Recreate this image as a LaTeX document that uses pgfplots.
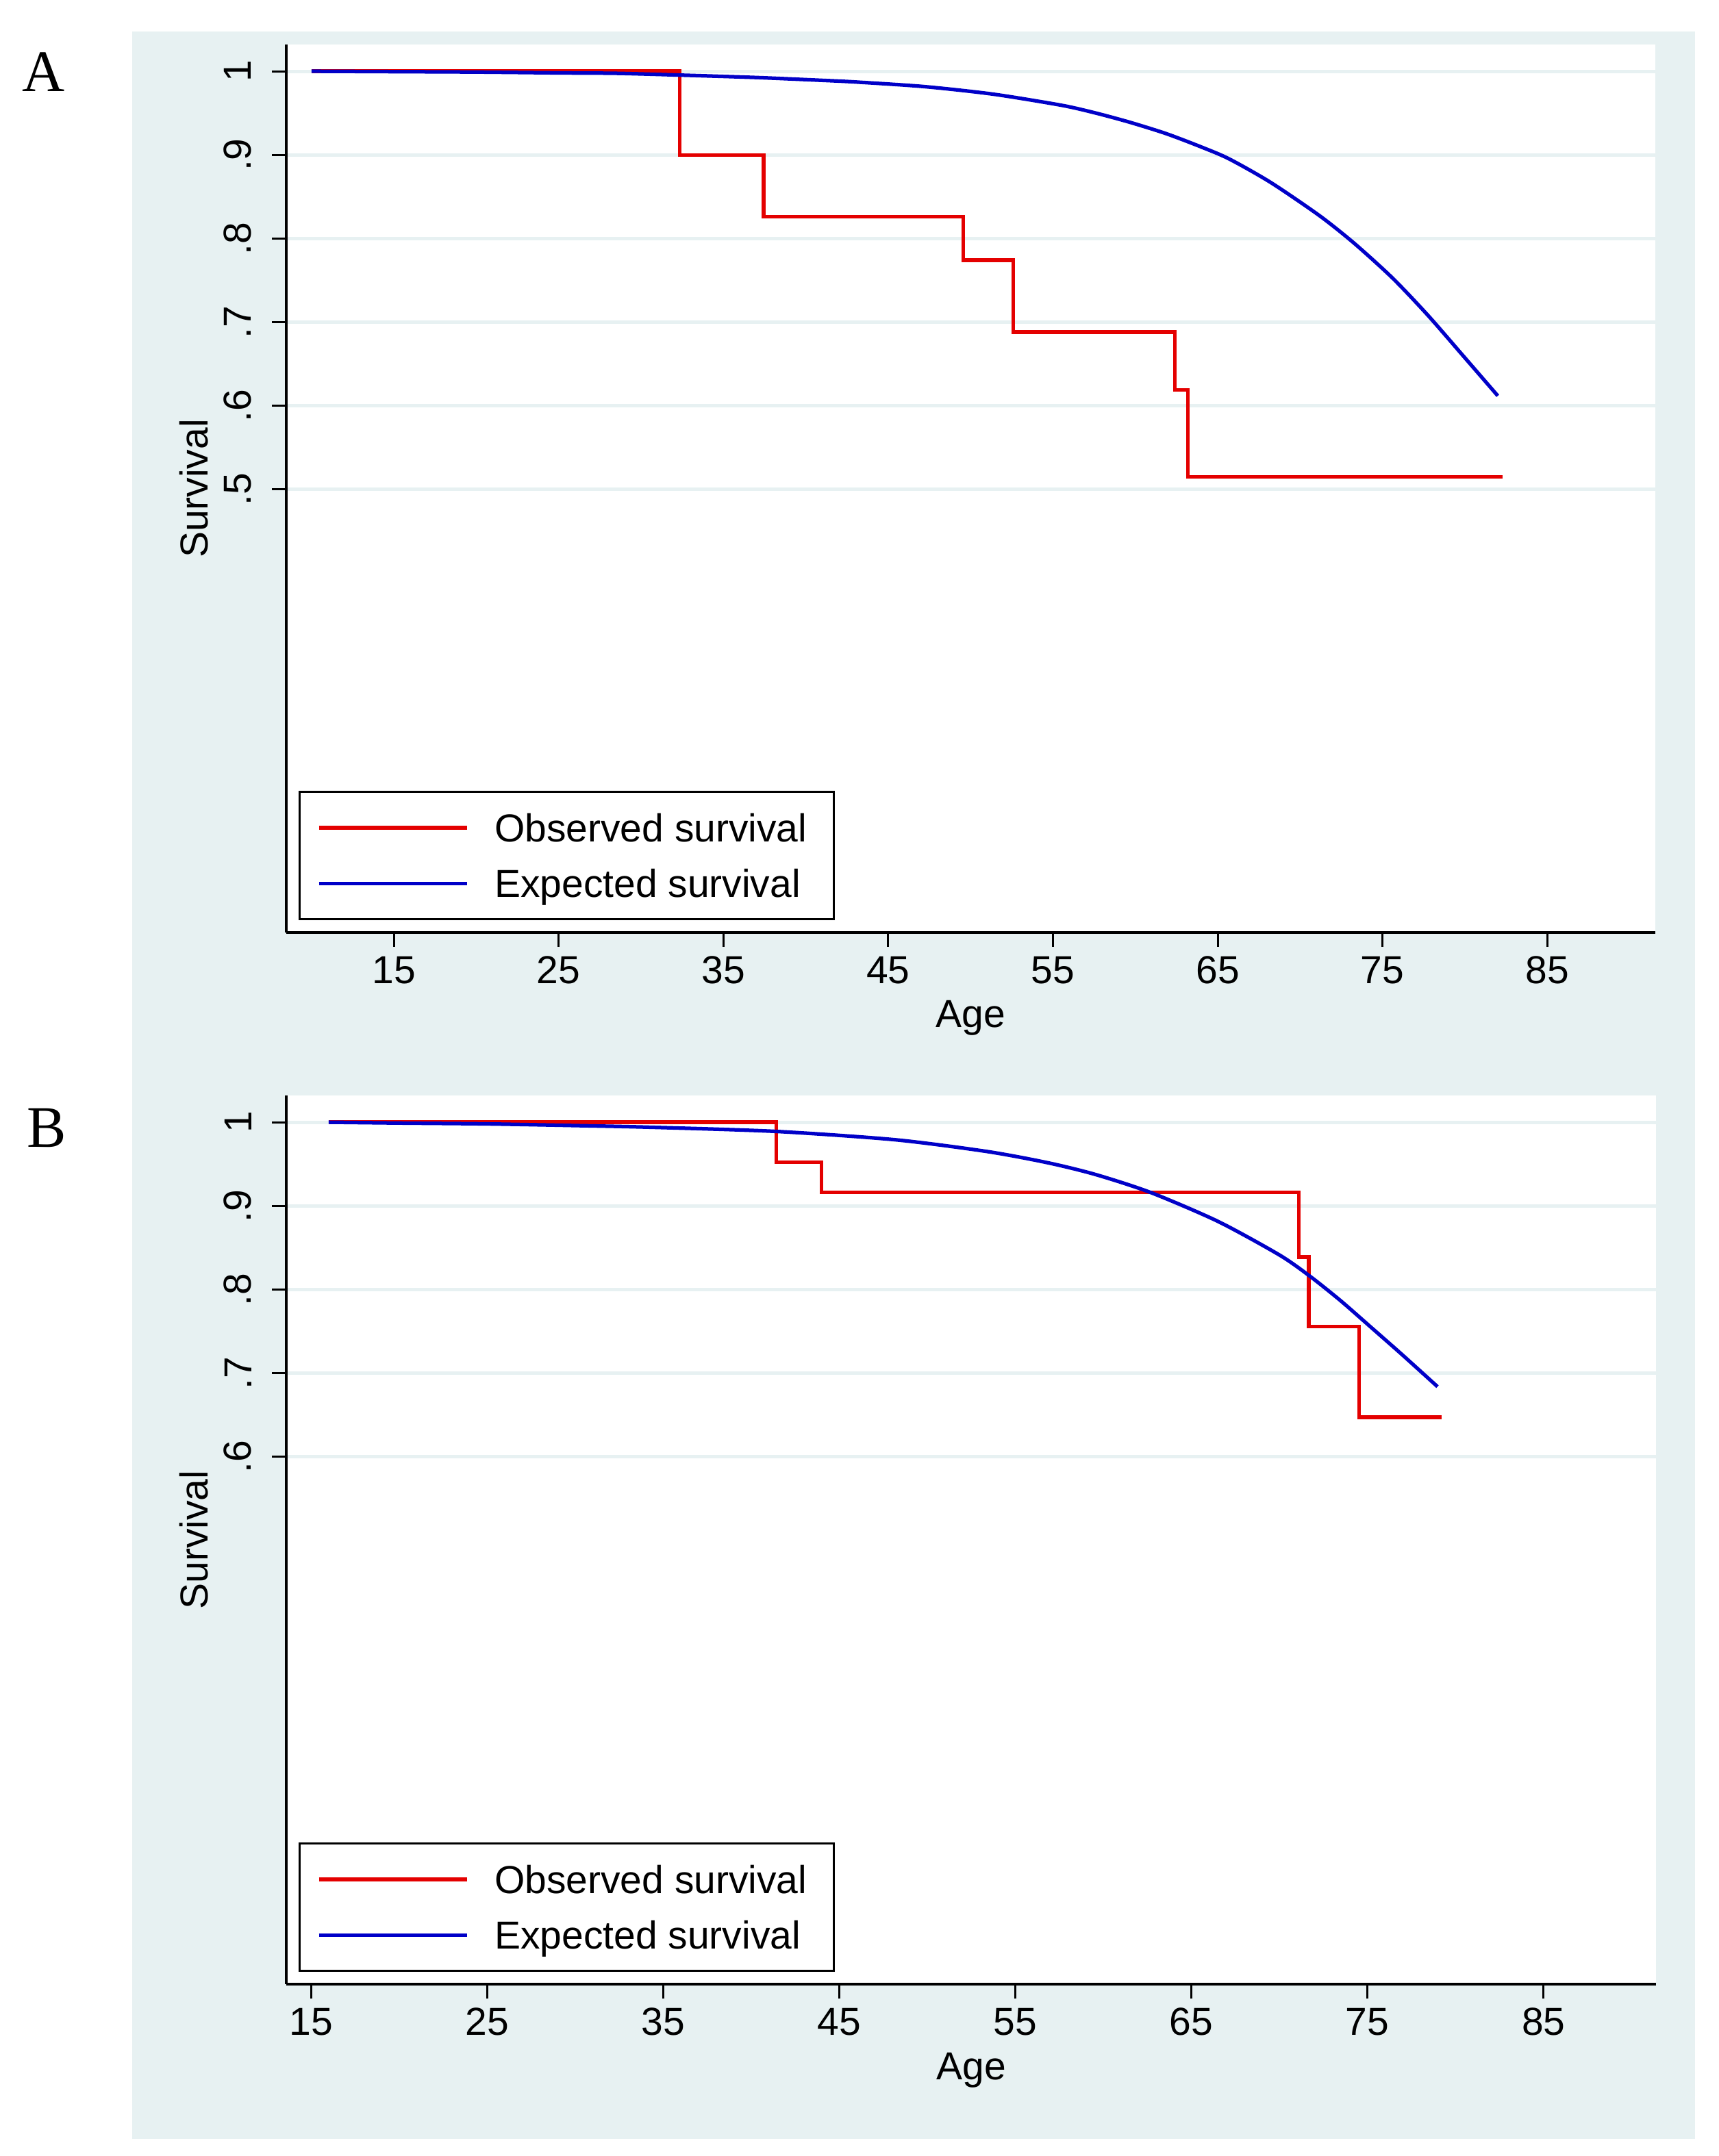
\documentclass[border=0pt]{standalone}
\usepackage{fontspec}
\setmainfont{Liberation Sans}
\newfontfamily\panelfont{Liberation Serif}
\usepackage{pgfplots}
\pgfplotsset{compat=1.18}
\definecolor{bgc}{RGB}{231,241,242}
\definecolor{obsred}{RGB}{228,0,0}
\definecolor{expblue}{RGB}{0,0,200}
\newcommand{\lblfont}{\fontsize{11.4}{13}\selectfont}
\pgfplotsset{
  survstyle/.style={
    scale only axis,
    axis background/.style={fill=white},
    axis x line*=bottom, axis y line*=left,
    axis line style={line width=0.65pt, black},
    tick style={line width=0.6pt, black},
    major tick length=4.2pt,
    tick align=outside,
    ymajorgrids,
    major grid style={draw=bgc, line width=1pt},
    xtick={15,25,35,45,55,65,75,85},
    xticklabels={15,25,35,45,55,65,75,85},
    ymin=-0.03, ymax=1.032,
    tick label style={font=\lblfont, inner sep=0pt},
    xticklabel style={anchor=north},
    xticklabel shift=2.6pt,
    yticklabel style={rotate=90, anchor=south},
    yticklabel shift=5.8pt,
    label style={font=\lblfont, inner sep=0pt},
    xlabel={Age}, ylabel={Survival},
    xlabel style={at={(axis description cs:0.5,-0.10717)}, anchor=base},
    ylabel style={at={(axis description cs:-0.05703,0.5)}, anchor=base},
    legend style={at={(0.00975,0.0149)}, anchor=south west, draw=black,
      line width=0.6pt, fill=white, inner xsep=5.1pt, inner ysep=6.4pt,
      outer sep=0pt, row sep=8.04pt, column sep=7.6pt,
      nodes={inner sep=0pt, text height=8.2pt, text depth=0pt, font=\lblfont}},
    legend cell align=left,
    legend image code/.code={\draw[##1, line width=1.05pt] (0pt,0pt) -- (43.2pt,0pt);},
  },
  obs/.style={color=obsred, line width=1.05pt, const plot},
  expc/.style={color=expblue, line width=1.05pt, smooth, tension=0.45},
}
\begin{document}
\begin{tikzpicture}
\path[use as bounding box, fill=white] (0pt,0pt) rectangle (502pt,629.8pt);
\fill[bgc] (38.6pt,5.0pt) rectangle (495pt,620.6pt);

% Panel A
\begin{axis}[survstyle,
  at={(83.6pt,357.4pt)}, anchor=south west,
  width=399.8pt, height=259.4pt,
  xmin=8.47, xmax=91.56,
  ytick={0.5,0.6,0.7,0.8,0.9,1},
  yticklabels={.5,.6,.7,.8,.9,1}]
\addplot[obs] coordinates {(10,1) (32.34,0.9) (37.44,0.826) (49.56,0.774) (52.6,0.688) (62.41,0.619) (63.18,0.515) (82.3,0.515)};
\addlegendentry{Observed survival\hspace*{2.7pt}}
\addplot[expc] coordinates {(10,1.0) (15,0.9995) (20,0.999) (25,0.998) (28.51,0.9975) (32.34,0.9954) (36.99,0.9925) (41.23,0.9889) (43.06,0.9871) (47.21,0.9816) (51.37,0.9726) (55.52,0.9593) (57.6,0.9500) (59.68,0.9389) (61.84,0.9256) (63.84,0.9107) (65.66,0.8955) (68.2,0.8672) (71.17,0.8274) (73.3,0.794) (75.63,0.7523) (77.75,0.7083) (79.87,0.6603) (82.0,0.6118)};
\addlegendentry{Expected survival}
\end{axis}

% Panel B
\begin{axis}[survstyle,
  at={(83.6pt,50.2pt)}, anchor=south west,
  width=400pt, height=259.6pt,
  xmin=13.59, xmax=91.39,
  ytick={0.6,0.7,0.8,0.9,1},
  yticklabels={.6,.7,.8,.9,1}]
\addplot[obs] coordinates {(16,1) (41.43,0.952) (44.0,0.916) (71.11,0.839) (71.67,0.7556) (74.54,0.6475) (79.21,0.6475)};
\addlegendentry{Observed survival\hspace*{2.7pt}}
\addplot[expc] coordinates {(16,1.0) (20,0.999) (25,0.998) (30,0.996) (34.28,0.994) (41.43,0.989) (48.2,0.979) (53.4,0.965) (56.86,0.9515) (59.56,0.9375) (62.69,0.916) (66.51,0.8815) (69.99,0.8415) (71.72,0.8162) (73.46,0.787) (75.2,0.755) (76.93,0.723) (78.98,0.684)};
\addlegendentry{Expected survival}
\end{axis}

\node[anchor=base west, inner sep=0pt, font=\panelfont\fontsize{17.2}{20}\selectfont] at (6.4pt,603pt) {A};
\node[anchor=base west, inner sep=0pt, font=\panelfont\fontsize{17.2}{20}\selectfont] at (7.6pt,294.6pt) {B};
\end{tikzpicture}
\end{document}
